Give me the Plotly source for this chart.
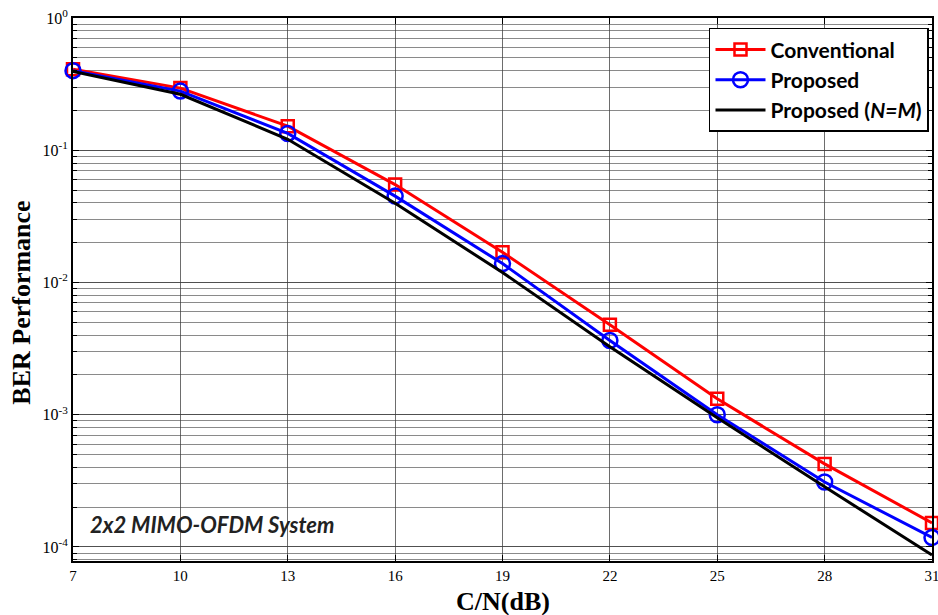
import plotly.graph_objects as go

snr = [7, 10, 13, 16, 19, 22, 25, 28, 31]
conventional = [0.41, 0.295, 0.152, 0.055, 0.0169, 0.0048, 0.00132, 0.000425, 0.000152]
proposed = [0.40, 0.28, 0.134, 0.045, 0.0139, 0.00364, 0.00100, 0.00031, 0.000118]
proposed_nm = [0.395, 0.265, 0.121, 0.0397, 0.0119, 0.00327, 0.00095, 0.000285, 0.000087]

ytick_vals = [1e-4, 1e-3, 1e-2, 1e-1, 1]
ytick_text = ["10<sup>-4</sup>", "10<sup>-3</sup>", "10<sup>-2</sup>", "10<sup>-1</sup>", "10<sup>0</sup>"]
xtick_vals = [7, 10, 13, 16, 19, 22, 25, 28, 31]

fig = go.Figure()
fig.add_trace(go.Scatter(
    x=snr, y=conventional, name="<b>Conventional</b>", mode="lines+markers",
    line=dict(color="#ff0000", width=3),
    marker=dict(symbol="square-open", size=12, color="#ff0000", line=dict(width=2.5, color="#ff0000")),
    cliponaxis=False))
fig.add_trace(go.Scatter(
    x=snr, y=proposed, name="<b>Proposed</b>", mode="lines+markers",
    line=dict(color="#0000ff", width=3),
    marker=dict(symbol="circle-open", size=15, color="#0000ff", line=dict(width=2.5, color="#0000ff")),
    cliponaxis=False))
fig.add_trace(go.Scatter(
    x=snr, y=proposed_nm, name="<b>Proposed (<i>N=M</i>)</b>", mode="lines",
    line=dict(color="#000000", width=3),
    cliponaxis=False))

fig.add_annotation(
    x=0.017, y=0.068, xref="paper", yref="paper", xanchor="left", yanchor="middle",
    text="<b><i>2x2 MIMO-OFDM System</i></b>", showarrow=False,
    font=dict(family="Lato", size=22, color="#222222"))

fig.add_annotation(
    x=0.5, y=-0.074, xref="paper", yref="paper", xanchor="center", yanchor="middle",
    text="<b>C/N(dB)</b>", showarrow=False,
    font=dict(family="Liberation Serif", size=26, color="black"))
fig.add_annotation(
    x=-0.061, y=0.475, xref="paper", yref="paper", xanchor="center", yanchor="middle",
    text="<b>BER Performance</b>", showarrow=False, textangle=-90,
    font=dict(family="Liberation Serif", size=26, color="black"))

grid_major = "rgba(60,60,60,0.75)"
grid_minor = "rgba(60,60,60,0.6)"

fig.update_layout(
    width=938, height=615,
    margin=dict(l=73, r=6, t=18, b=54, autoexpand=False),
    paper_bgcolor="white", plot_bgcolor="white",
    showlegend=True,
    legend=dict(
        x=0.9965, y=0.982, xanchor="right", yanchor="top",
        bgcolor="white", bordercolor="black", borderwidth=1.5,
        font=dict(family="Lato", size=21, color="black"),
        itemwidth=50, tracegroupgap=0),
    xaxis=dict(
        range=[7, 31], tickvals=xtick_vals, ticks="inside", ticklen=6,
        tickcolor="black", mirror="ticks", showline=True, linecolor="black", linewidth=2,
        showgrid=True, gridcolor=grid_major, gridwidth=1, zeroline=False, automargin=False,
        ticklabeloverflow="allow",
        tickfont=dict(family="Liberation Serif", size=15, color="black")),
    yaxis=dict(
        type="log", range=[-4.106, 0], tickvals=ytick_vals, ticktext=ytick_text,
        ticks="inside", ticklen=6, tickcolor="black", mirror="ticks",
        showline=True, linecolor="black", linewidth=2, automargin=False,
        ticklabeloverflow="allow",
        showgrid=True, gridcolor=grid_major, gridwidth=1, zeroline=False,
        tickfont=dict(family="Liberation Serif", size=16, color="black"),
        minor=dict(dtick="D1", ticks="inside", ticklen=4, tickcolor="black",
                   showgrid=True, gridcolor=grid_minor, gridwidth=1)),
)

fig.write_html("out.html", config={"displayModeBar": False},
               post_script="document.body.style.margin='0';document.body.style.overflow='hidden';")
